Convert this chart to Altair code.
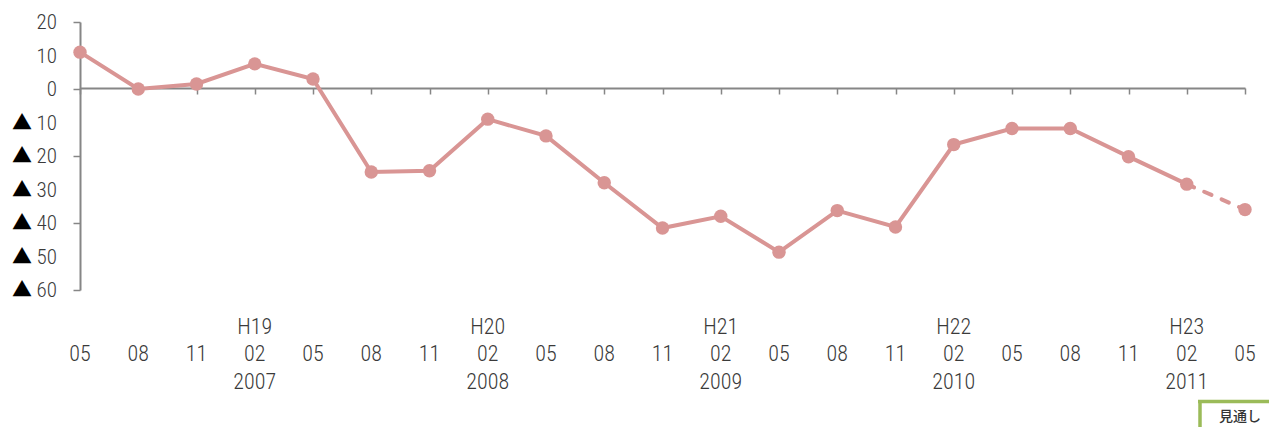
import altair as alt
import pandas as pd

# ---- data ----
months = ["05", "08", "11", "02", "05", "08", "11", "02", "05", "08", "11",
          "02", "05", "08", "11", "02", "05", "08", "11", "02", "05"]
heisei = ["", "", "", "H19", "", "", "", "H20", "", "", "", "H21", "", "", "",
          "H22", "", "", "", "H23", ""]
years = ["", "", "", "2007", "", "", "", "2008", "", "", "", "2009", "", "", "",
         "2010", "", "", "", "2011", ""]
values = [11, 0, 1.5, 7.5, 3, -24.8, -24.4, -9, -14, -28, -41.5, -38, -48.7,
          -36.3, -41.2, -16.6, -11.8, -11.8, -20.2, -28.4, -36]
forecast_from = 19  # last actual index; segment 19->20 is the outlook
y_ticks = [20, 10, 0, -10, -20, -30, -40, -50, -60]
y_nums = ["20", "10", "0", "10", "20", "30", "40", "50", "60"]
y_tris = ["", "", "", "▲", "▲", "▲", "▲", "▲", "▲"]
legend_label = "見通し"

idx = list(range(len(values)))
df = pd.DataFrame({"i": idx, "v": values, "m": months, "h": heisei, "yr": years})
df_solid = df[df.i <= forecast_from]
df_dash = df[df.i >= forecast_from]
dfy = pd.DataFrame({"v": y_ticks, "n": y_nums, "t": y_tris})

W, H = 1165, 268
FONT = "'Roboto Condensed', 'DejaVu Sans Condensed', 'Liberation Sans Narrow', Roboto, sans-serif"
TXT = "#3a3a3a"
AX = "#868686"
LINE = "#D99594"

xs = alt.Scale(domain=[0, len(values) - 1], nice=False, zero=False)
ys = alt.Scale(domain=[-60, 20], nice=False)

base = alt.Chart(df)

line_solid = alt.Chart(df_solid).mark_line(color=LINE, strokeWidth=4).encode(
    x=alt.X("i:Q", scale=xs,
            axis=alt.Axis(values=idx, labels=False, title=None, tickSize=6,
                          tickColor=AX, domainColor=AX, grid=False,
                          offset=-(H - 66), domainWidth=2, tickWidth=1.5)),
    y=alt.Y("v:Q", scale=ys,
            axis=alt.Axis(values=y_ticks, title=None, grid=False, tickSize=7,
                          tickColor=AX, domainColor=AX, domainWidth=2, tickWidth=1.5,
                          labels=False, labelOverlap=False)),
)
line_dash = alt.Chart(df_dash).mark_line(color=LINE, strokeWidth=4, strokeCap="round",
                                         strokeDash=[8, 11]).encode(
    x=alt.X("i:Q", scale=xs), y=alt.Y("v:Q", scale=ys))
points = base.mark_circle(color=LINE, opacity=1, size=180).encode(
    x=alt.X("i:Q", scale=xs), y=alt.Y("v:Q", scale=ys))

txt = dict(font=FONT, fontSize=22, fontWeight=300, color=TXT, align="center",
           baseline="middle")
row_h = base.mark_text(**txt).encode(x=alt.X("i:Q", scale=xs), y=alt.value(305), text="h:N")
row_m = base.mark_text(**txt).encode(x=alt.X("i:Q", scale=xs), y=alt.value(332), text="m:N")
row_y = base.mark_text(**txt).encode(x=alt.X("i:Q", scale=xs), y=alt.value(360), text="yr:N")

ylab_n = alt.Chart(dfy).mark_text(font=FONT, fontSize=21, fontWeight=300, color=TXT,
                                  align="right", baseline="middle", dy=1).encode(
    x=alt.value(-23), y=alt.Y("v:Q", scale=ys), text="n:N")
ylab_t = alt.Chart(dfy).mark_text(font="Noto Sans CJK JP", fontSize=20, color="#000000",
                                  align="center", baseline="middle", dy=1).encode(
    x=alt.value(-58), y=alt.Y("v:Q", scale=ys), text="t:N")

GREEN = "#9BBB59"
leg_v = alt.Chart(pd.DataFrame({"a": [0]})).mark_rule(color=GREEN, strokeWidth=3.5).encode(
    x=alt.value(1120), y=alt.value(378), y2=alt.value(420))
leg_h = alt.Chart(pd.DataFrame({"a": [0]})).mark_rule(color=GREEN, strokeWidth=3.5).encode(
    x=alt.value(1118), x2=alt.value(1200), y=alt.value(379.5))
leg_t = alt.Chart(pd.DataFrame({"t": [legend_label]})).mark_text(
    font="Noto Sans CJK JP", fontSize=14, fontWeight=500, color="#333333", align="center",
    baseline="middle").encode(x=alt.value(1160), y=alt.value(395), text="t:N")

chart = alt.layer(line_solid, line_dash, points, row_h, row_m, row_y,
                  ylab_n, ylab_t, leg_v, leg_h, leg_t).properties(
    width=W, height=H,
    autosize=alt.AutoSizeParams(type="none"),
    padding={"left": 72, "top": 14, "right": 24, "bottom": 137},
).configure_view(stroke=None).configure_axis(labelOverlap=False)

chart.save("out.html", embed_options={"renderer": "svg", "actions": False})
